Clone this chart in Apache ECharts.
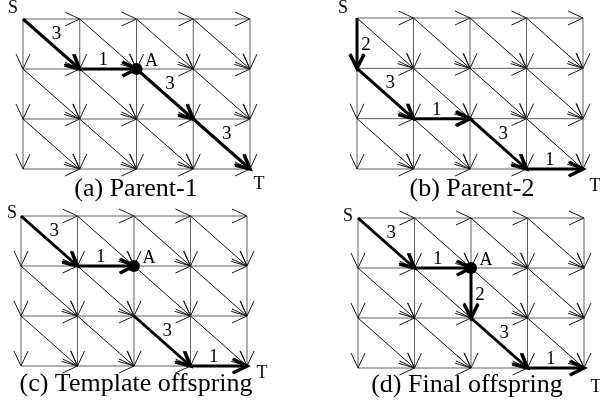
<!DOCTYPE html>
<html><head><meta charset="utf-8">
<script src="https://cdn.jsdelivr.net/npm/echarts@6/dist/echarts.min.js"></script>
<style>html,body{margin:0;padding:0;background:#fff}#c{width:600px;height:407px}</style>
</head><body><div id="c"></div>
<script>
// grid nodes
const cols = [0, 1, 2, 3, 4];
const rows = [0, 1, 2, 3];
const panelTitles = ['(a) Parent-1', '(b) Parent-2', '(c) Template offspring', '(d) Final offspring'];
// bold path edges: [fromCol, fromRow, toCol, toRow, weight]
const pathA = [[0,0,1,1,3],[1,1,2,1,1],[2,1,3,2,3],[3,2,4,3,3]];
const pathB = [[0,0,0,1,2],[0,1,1,2,3],[1,2,2,2,1],[2,2,3,3,3],[3,3,4,3,1]];
const pathC = [[0,0,1,1,3],[1,1,2,1,1],[2,2,3,3,3],[3,3,4,3,1]];
const pathD = [[0,0,1,1,3],[1,1,2,1,1],[2,1,2,2,2],[2,2,3,3,3],[3,3,4,3,1]];
const paths = [pathA, pathB, pathC, pathD];
const nodeA = [[2,1], null, [2,1], [2,1]];
const startNode = [0, 0];
const endNode = [4, 3];

// build the directed lattice edges: type 0 = right, 1 = down, 2 = diagonal
const edges = [];
rows.forEach(r => cols.forEach(c => {
  if (c < cols.length - 1) edges.push([c, r, c + 1, r, 0]);
}));
cols.forEach(c => rows.forEach(r => {
  if (r < rows.length - 1) edges.push([c, r, c, r + 1, 1]);
}));
cols.forEach(c => rows.forEach(r => {
  if (c < cols.length - 1 && r < rows.length - 1) edges.push([c, r, c + 1, r + 1, 2]);
}));

const layout = [
  {left: 23, top: 19, width: 227, height: 150, s: [-10, -11], t: [9, 15], title: [136, 189]},
  {left: 357, top: 18, width: 226, height: 151, s: [-14, -10], t: [12, 17], title: [472, 189]},
  {left: 21, top: 216, width: 226, height: 150, s: [-9, -3], t: [15, 7], title: [136, 384]},
  {left: 358, top: 218, width: 226, height: 150, s: [-10, -2], t: [12, 19], title: [467, 385]}
];
const FONT = 'Liberation Serif';

function arrowParts(p1, p2, L, W) {
  const dx = p2[0] - p1[0], dy = p2[1] - p1[1];
  const len = Math.sqrt(dx * dx + dy * dy);
  const ux = dx / len, uy = dy / len;
  const nx = -uy, ny = ux;
  const bx = p2[0] - L * ux, by = p2[1] - L * uy;
  return [[bx + W * nx, by + W * ny], [p2[0], p2[1]], [bx - W * nx, by - W * ny]];
}

const grids = [], xAxes = [], yAxes = [], series = [], graphics = [];
layout.forEach((g, i) => {
  grids.push({left: g.left, top: g.top, width: g.width, height: g.height, containLabel: false});
  xAxes.push({type: 'value', gridIndex: i, min: 0, max: cols.length - 1, show: false});
  yAxes.push({type: 'value', gridIndex: i, min: 0, max: rows.length - 1, inverse: true, show: false});
  // thin lattice
  series.push({
    type: 'custom', xAxisIndex: i, yAxisIndex: i, silent: true, z: 1,
    data: edges, encode: {x: [0, 2], y: [1, 3]},
    renderItem: function (params, api) {
      const p1 = api.coord([api.value(0), api.value(1)]);
      const p2 = api.coord([api.value(2), api.value(3)]);
      const t = api.value(4);
      const col = t === 2 ? '#111' : '#5e5e5e';
      const head = arrowParts(p1, p2, 15, 7);
      return {type: 'group', children: [
        {type: 'line', shape: {x1: p1[0], y1: p1[1], x2: p2[0], y2: p2[1]}, style: {stroke: col, lineWidth: 1}},
        {type: 'polyline', shape: {points: head}, style: {stroke: '#1a1a1a', fill: null, lineWidth: 1}}
      ]};
    }
  });
  // bold path with weights
  series.push({
    type: 'custom', xAxisIndex: i, yAxisIndex: i, silent: true, z: 3,
    data: paths[i], encode: {x: [0, 2], y: [1, 3]},
    renderItem: function (params, api) {
      const p1 = api.coord([api.value(0), api.value(1)]);
      const p2 = api.coord([api.value(2), api.value(3)]);
      const w = api.value(4);
      const head = arrowParts(p1, p2, 14, 7);
      const mx = (p1[0] + p2[0]) / 2, my = (p1[1] + p2[1]) / 2;
      let off;
      if (p1[1] === p2[1]) off = [-5, -9];
      else if (p1[0] === p2[0]) off = [9, 2];
      else off = [5, -10];
      return {type: 'group', children: [
        {type: 'line', shape: {x1: p1[0], y1: p1[1], x2: p2[0], y2: p2[1]}, style: {stroke: '#000', lineWidth: 3}},
        {type: 'polyline', shape: {points: head}, style: {stroke: '#000', fill: null, lineWidth: 3.5, lineJoin: 'miter'}},
        {type: 'text', style: {text: String(w), x: mx + off[0], y: my + off[1], align: 'center', verticalAlign: 'middle', fontSize: 19, fontFamily: FONT, fill: '#000'}}
      ]};
    }
  });
  // S and T labels
  series.push({
    type: 'custom', xAxisIndex: i, yAxisIndex: i, silent: true, z: 4,
    data: [[startNode[0], startNode[1], 0], [endNode[0], endNode[1], 1]],
    renderItem: function (params, api) {
      const p = api.coord([api.value(0), api.value(1)]);
      const isT = api.value(2) === 1;
      const off = isT ? g.t : g.s;
      return {type: 'text', style: {text: isT ? 'T' : 'S', x: p[0] + off[0], y: p[1] + off[1], align: 'center', verticalAlign: 'middle', fontSize: 18, fontFamily: FONT, fill: '#000'}};
    }
  });
  if (nodeA[i]) {
    series.push({
      type: 'custom', xAxisIndex: i, yAxisIndex: i, silent: true, z: 5,
      data: [nodeA[i]], encode: {x: 0, y: 1},
      renderItem: function (params, api) {
        const p = api.coord([api.value(0), api.value(1)]);
        return {type: 'group', children: [
          {type: 'circle', shape: {cx: p[0], cy: p[1], r: 6}, style: {fill: '#000'}},
          {type: 'text', style: {text: 'A', x: p[0] + 15, y: p[1] - 8, align: 'center', verticalAlign: 'middle', fontSize: 18, fontFamily: FONT, fill: '#000'}}
        ]};
      }
    });
  }
  graphics.push({type: 'text', x: g.title[0], y: g.title[1],
    style: {text: panelTitles[i], align: 'center', verticalAlign: 'middle', fontSize: 26, fontFamily: FONT, fill: '#000'}});
});

const chart = echarts.init(document.getElementById('c'), null, {renderer: 'canvas'});
chart.setOption({
  animation: false,
  backgroundColor: '#fff',
  grid: grids, xAxis: xAxes, yAxis: yAxes, series: series,
  graphic: graphics
});
</script></body></html>
